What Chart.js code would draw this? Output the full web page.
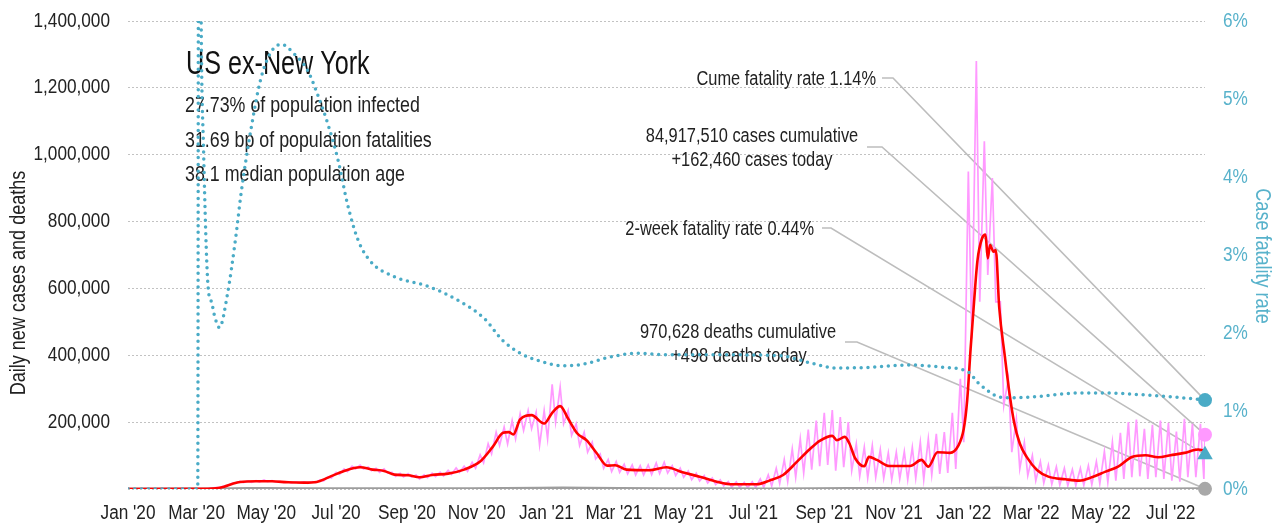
<!DOCTYPE html>
<html><head><meta charset="utf-8">
<script src="https://cdn.jsdelivr.net/npm/chart.js@4.4.0/dist/chart.umd.min.js"></script>
<style>html,body{margin:0;padding:0;background:#fff;overflow:hidden}canvas{display:block}</style>
</head><body>
<canvas id="c" width="1280" height="529"></canvas>
<script>
const FONT = "'Liberation Sans', Arial, 'Noto Sans', sans-serif";

// ---- x-axis tick labels ----
const tickDates = ["2020-01-01","2020-03-01","2020-05-01","2020-07-01","2020-09-01","2020-11-01",
  "2021-01-01","2021-03-01","2021-05-01","2021-07-01","2021-09-01","2021-11-01",
  "2022-01-01","2022-03-01","2022-05-01","2022-07-01"];
const tickLabels = ["Jan '20","Mar '20","May '20","Jul '20","Sep '20","Nov '20",
  "Jan '21","Mar '21","May '21","Jul '21","Sep '21","Nov '21",
  "Jan '22","Mar '22","May '22","Jul '22"];
const axisStart = "2020-01-01";
const axisEnd = "2022-07-31";

// ---- 7-day average of new cases (thousands) ----
const avgDates = ["2020-01-01","2020-03-11","2020-03-18","2020-03-25","2020-04-01","2020-04-08","2020-04-22","2020-05-06","2020-05-20","2020-06-03","2020-06-14","2020-06-24","2020-07-08","2020-07-22","2020-08-02","2020-08-12","2020-08-21","2020-09-02","2020-09-12","2020-09-23","2020-10-07","2020-10-21","2020-11-04","2020-11-15","2020-11-24","2020-11-29","2020-12-03","2020-12-09","2020-12-19","2020-12-30",
  "2021-01-06","2021-01-13","2021-01-20","2021-01-28","2021-02-05","2021-02-14","2021-02-23","2021-03-02","2021-03-12","2021-04-01","2021-04-16","2021-04-30","2021-05-15","2021-05-30","2021-06-13","2021-07-04","2021-07-15","2021-07-27","2021-08-08","2021-08-19","2021-08-28","2021-09-08","2021-09-12","2021-09-19","2021-09-23","2021-09-28","2021-10-06","2021-10-10","2021-10-17","2021-10-28","2021-11-15","2021-11-25","2021-12-01","2021-12-09","2021-12-20","2021-12-27",
  "2022-01-01","2022-01-04","2022-01-07","2022-01-10","2022-01-13","2022-01-17","2022-01-20","2022-01-22","2022-01-24","2022-01-27","2022-01-29","2022-02-01","2022-02-06","2022-02-10","2022-02-14","2022-02-19","2022-02-25","2022-03-06","2022-03-16","2022-03-31","2022-04-12","2022-04-23","2022-05-05","2022-05-16","2022-05-28","2022-06-09","2022-06-20","2022-07-01","2022-07-13","2022-07-25","2022-07-31"];
const avgCasesK = [0,0.5,2,7,15,21,23,23,20,19,21,34,54,65,58,54,43,41,35,42,46,58,82,126,168,170,163,208,221,196,
  228,248,210,166,146,107,70,71,58,56,65,50,37,22,14,14,25,42,81,118,144,159,146,156,136,92,68,96,87,69,69,87,67,110,108,128,
  180,266,420,560,684,750,761,690,730,710,715,544,395,286,200,136,96,57,37,29,25,35,52,67,96,101,95,101,108,118,114];

// ---- daily new cases (thousands): weekly mid-week high and weekend low ----
const dailyWeekStart = "2020-03-01";
const dailyHighK = [0.4,1.5,4,9,17,23,24,25,27,25,23,22,21,21,22,27,37,50,60,68,71,66,62,60,50,47,46,42,42,47,50,56,63,68,80,102,135,170,185,205,225,235,230,235,313,305,235,195,170,140,105,88,82,74,72,70,72,78,80,70,62,54,47,40,33,27,22,21,20,22,30,42,62,88,120,150,178,205,228,236,215,200,135,125,130,118,108,110,112,125,140,150,165,170,228,330,950,1280,1040,930,560,330,210,140,100,82,72,66,62,58,62,70,82,112,140,168,200,208,180,192,205,198,172,210,195,195];
const dailyLowK  = [0.5,2.5,5,10,18,19,20,21,22,21,19,18,18,17,19,24,33,44,52,60,60,55,50,48,38,36,36,30,34,37,39,44,50,53,62,78,105,130,135,150,175,180,131,150,200,195,160,130,110,90,62,52,50,45,42,42,43,46,48,40,35,28,24,18,13,9,6,5,4,5,5,9,16,22,35,48,58,68,72,55,65,55,38,33,35,32,28,30,28,32,28,42,45,48,60,140,450,560,640,560,250,110,60,40,25,18,14,12,10,10,11,13,16,20,25,30,35,38,30,35,30,25,22,35,35,30];

// ---- daily deaths, 7-day average (thousands) ----
const deathDates = ["2020-01-01","2020-03-11","2020-04-01","2020-04-15","2020-04-30","2020-05-30","2020-06-29","2020-07-29","2020-08-28","2020-09-27","2020-10-27","2020-11-26","2020-12-26","2021-01-15","2021-02-04","2021-03-06","2021-04-15","2021-06-04","2021-07-14","2021-08-23","2021-09-22","2021-10-22","2021-12-01","2021-12-31","2022-01-30","2022-03-01","2022-03-31","2022-04-30","2022-05-30","2022-06-29","2022-07-31"];
const deathsK = [0,0.1,1.0,1.8,1.6,0.8,0.6,1.0,0.8,0.7,0.8,1.5,2.3,3.0,2.5,1.4,0.6,0.4,0.25,0.8,1.7,1.4,1.1,1.2,2.4,1.6,0.6,0.3,0.25,0.35,0.5];

// ---- case fatality rate (%) ----
const cfrDates = ["2020-01-01","2020-03-02","2020-03-03","2020-03-05","2020-03-07","2020-03-11","2020-03-14","2020-03-17","2020-03-21","2020-03-28","2020-04-04","2020-04-09","2020-04-18","2020-04-26","2020-05-05","2020-05-14","2020-05-26","2020-06-06","2020-06-15","2020-06-24","2020-07-03","2020-07-11","2020-07-20","2020-07-31","2020-08-21","2020-09-19","2020-10-18","2020-11-08","2020-11-24","2020-12-09","2020-12-24",
  "2021-01-15","2021-02-02","2021-02-25","2021-03-21","2021-04-19","2021-06-02","2021-07-24","2021-08-19","2021-09-12","2021-10-11","2021-11-15","2021-12-14","2021-12-31",
  "2022-01-06","2022-01-13","2022-01-21","2022-02-01","2022-02-13","2022-03-02","2022-04-12","2022-05-06","2022-06-04","2022-07-03","2022-07-31"];
const cfrPct = [0,0,12,6.0,4.4,2.6,2.4,2.2,2.07,2.5,3.2,3.8,4.65,5.25,5.6,5.7,5.57,5.37,5.05,4.67,4.2,3.65,3.2,2.92,2.72,2.6,2.4,2.18,1.9,1.74,1.65,
  1.58,1.6,1.69,1.74,1.72,1.72,1.71,1.62,1.55,1.56,1.59,1.56,1.53,
  1.49,1.37,1.27,1.18,1.17,1.18,1.23,1.23,1.21,1.18,1.14];

// ---- latest values ----
const lastCases = 162460;
const lastDeaths = 498;
const cumeFatalityRate = 1.14;
const twoWeekFatalityRate = 0.44;

// ---- texts ----
const titleText = "US ex-New York";
const infoLines = ["27.73% of population infected","31.69 bp of population fatalities","38.1 median population age"];
const noteCume = "Cume fatality rate 1.14%";
const noteCases = ["84,917,510 cases cumulative","+162,460 cases today"];
const noteTwoWeek = "2-week fatality rate 0.44%";
const noteDeaths = ["970,628 deaths cumulative","+498 deaths today"];
const leftTitle = "Daily new cases and deaths";
const rightTitle = "Case fatality rate";

const TEAL = '#4aabc6', TEAL_TXT = '#58b2cb', PINK = '#ff99ff', RED = '#ff0000', GREY = '#9d9d9d', LEADER = '#bdbdbd';
const SQ = 0.82;

const DAY = 86400000;
const dayOf = s => (Date.parse(s + 'T00:00:00Z') - Date.parse(axisStart + 'T00:00:00Z')) / DAY;
const lastDay = dayOf(axisEnd);

const avgPts = avgDates.map((d, i) => ({x: dayOf(d), y: avgCasesK[i] * 1000}));
const dailyPts = [{x: 0, y: 0}, {x: dayOf(dailyWeekStart) - 1, y: 0}];
const w0 = dayOf(dailyWeekStart);
dailyHighK.forEach((h, k) => {
  dailyPts.push({x: w0 + 7 * k + 3, y: h * 1000});
  dailyPts.push({x: w0 + 7 * k + 6, y: dailyLowK[k] * 1000});
});
dailyPts.push({x: lastDay, y: lastCases});
const deathPts = deathDates.map((d, i) => ({x: dayOf(d), y: deathsK[i] * 1000}));
const cfrPts = cfrDates.map((d, i) => ({x: dayOf(d), y: cfrPct[i]}));

function txt(ctx, s, x, y, size, align, color, squeeze) {
  ctx.save();
  ctx.font = size + 'px ' + FONT;
  ctx.fillStyle = color || '#222';
  ctx.textAlign = align || 'left';
  ctx.textBaseline = 'middle';
  ctx.translate(x, y);
  ctx.scale(squeeze || SQ, 1);
  ctx.fillText(s, 0, 0);
  ctx.restore();
}

const annot = {
  id: 'annot',
  beforeDatasetsDraw(chart) {
    const ctx = chart.ctx;
    const xs = chart.scales.x, ys = chart.scales.y, y2 = chart.scales.y2;
    const ex = xs.getPixelForValue(lastDay);
    // tick labels
    xs.ticks.forEach((t, i) => txt(ctx, tickLabels[i], xs.getPixelForValue(t.value), 513, 20, 'center', '#222', 0.86));
    ys.ticks.forEach(t => { if (t.value > 0) txt(ctx, t.value.toLocaleString('en-US'), 110, ys.getPixelForValue(t.value), 20, 'right', '#222', 0.86); });
    y2.ticks.forEach(t => txt(ctx, t.value + '%', 1223, y2.getPixelForValue(t.value), 20, 'left', TEAL_TXT, 0.86));
    // title block
    txt(ctx, titleText, 186, 65, 34, 'left', '#111', 0.74);
    infoLines.forEach((s, i) => txt(ctx, s, 185, 106 + i * 34.5, 22, 'left', '#222', 0.81));
    // notes
    txt(ctx, noteCume, 876, 79, 20, 'right');
    txt(ctx, noteCases[0], 752, 136, 20, 'center');
    txt(ctx, noteCases[1], 752, 160, 20, 'center');
    txt(ctx, noteTwoWeek, 814, 229, 20, 'right');
    txt(ctx, noteDeaths[0], 738, 332, 20, 'center');
    txt(ctx, noteDeaths[1], 739, 356, 20, 'center');
    // leader lines
    const leaders = [
      [[882, 78], [893, 78], [ex, y2.getPixelForValue(cumeFatalityRate)]],
      [[867, 147], [882, 147], [ex, ys.getPixelForValue(lastCases)]],
      [[822, 228], [831, 228], [ex, y2.getPixelForValue(twoWeekFatalityRate)]],
      [[845, 342], [857, 342], [ex, ys.getPixelForValue(lastDeaths)]]
    ];
    ctx.save();
    ctx.strokeStyle = LEADER; ctx.lineWidth = 1.6;
    leaders.forEach(p => {
      ctx.beginPath(); ctx.moveTo(p[0][0], p[0][1]); ctx.lineTo(p[1][0], p[1][1]); ctx.lineTo(p[2][0], p[2][1]); ctx.stroke();
    });
    ctx.restore();
    // axis titles
    ctx.save();
    ctx.translate(19, 283); ctx.rotate(-Math.PI / 2);
    txt(ctx, leftTitle, 0, 0, 22, 'center', '#222');
    ctx.restore();
    ctx.save();
    ctx.translate(1262, 256); ctx.rotate(Math.PI / 2);
    txt(ctx, rightTitle, 0, 0, 22, 'center', TEAL_TXT);
    ctx.restore();
  }
};

const tickDays = tickDates.map(dayOf);
const marker = (y, axis, r, style, color) => ({data: [{x: lastDay, y: y}], yAxisID: axis, showLine: false, pointRadius: r, pointStyle: style, backgroundColor: color, borderWidth: 0, clip: false, order: 0});

new Chart(document.getElementById('c').getContext('2d'), {
  type: 'line',
  data: {
    datasets: [
      marker(cumeFatalityRate, 'y2', 7, 'circle', TEAL),
      marker(lastCases, 'y', 7, 'circle', PINK),
      marker(twoWeekFatalityRate, 'y2', 9, 'triangle', TEAL),
      marker(lastDeaths, 'y', 7, 'circle', '#a8a8a8'),
      {data: cfrPts, yAxisID: 'y2', borderColor: TEAL, borderWidth: 3.5, borderDash: [0, 6.8], borderCapStyle: 'round', pointRadius: 0, cubicInterpolationMode: 'monotone', order: 1},
      {data: avgPts, yAxisID: 'y', borderColor: RED, borderWidth: 2.6, pointRadius: 0, cubicInterpolationMode: 'monotone', order: 2},
      {data: deathPts, yAxisID: 'y', borderColor: GREY, borderWidth: 3, pointRadius: 0, order: 3},
      {data: dailyPts, yAxisID: 'y', borderColor: PINK, borderWidth: 1.7, pointRadius: 0, tension: 0, order: 4}
    ]
  },
  options: {
    responsive: false, animation: false, devicePixelRatio: 1,
    layout: {padding: {top: 21, left: 0, right: 0, bottom: 0}},
    plugins: {legend: {display: false}, tooltip: {enabled: false}},
    scales: {
      x: {
        type: 'linear', min: 0, max: lastDay,
        grid: {display: false}, border: {display: false},
        afterBuildTicks: s => { s.ticks = tickDays.map(v => ({value: v})); },
        afterFit: s => { s.height = 40; },
        ticks: {display: false, autoSkip: false}
      },
      y: {
        position: 'left', min: 0, max: 1400000,
        afterFit: s => { s.width = 128; },
        grid: {color: '#c2c2c2', lineWidth: 1, drawTicks: false},
        border: {display: false, dash: [2, 2]},
        ticks: {display: false, stepSize: 200000}
      },
      y2: {
        position: 'right', min: 0, max: 6,
        afterFit: s => { s.width = 75; },
        grid: {display: false, drawTicks: false}, border: {display: false},
        ticks: {display: false, stepSize: 1}
      }
    }
  },
  plugins: [annot]
});
</script>
</body></html>
